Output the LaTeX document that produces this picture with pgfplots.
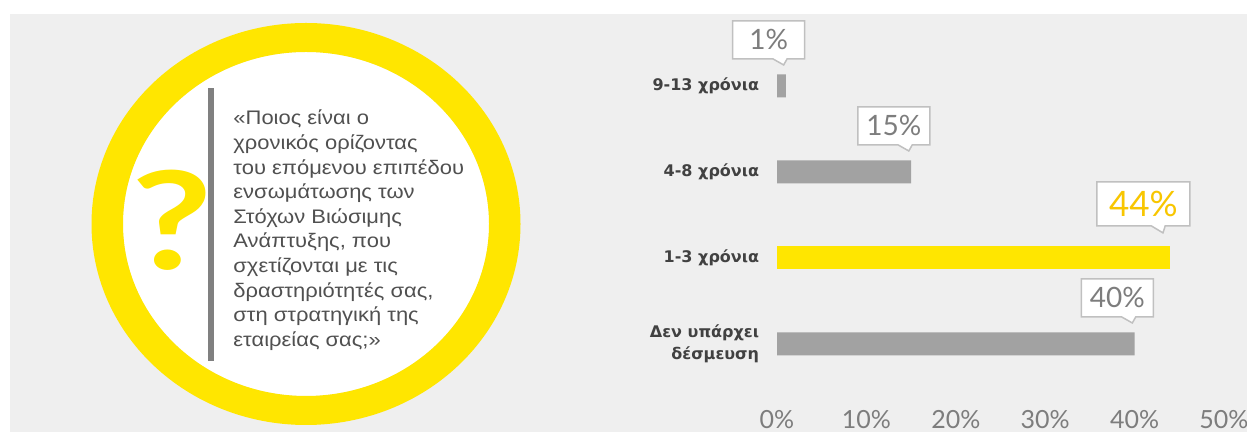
\documentclass[border=0pt]{standalone}
\usepackage{fontspec}
\setmainfont{Liberation Sans}
\newfontfamily\numfont{Lato}
\newfontfamily\catfont{DejaVu Sans}
\usepackage{pgfplots}
\pgfplotsset{compat=1.18}
\usetikzlibrary{shapes.callouts}

\definecolor{eyyellow}{RGB}{255,230,0}
\definecolor{bggray}{RGB}{239,239,239}
\definecolor{bargray}{RGB}{162,162,162}
\definecolor{qgray}{RGB}{80,80,80}
\definecolor{linegray}{RGB}{128,128,128}
\definecolor{numgray}{RGB}{125,125,125}
\definecolor{boxgray}{RGB}{192,192,192}
\definecolor{numyellow}{RGB}{248,198,0}
\definecolor{catgray}{RGB}{65,65,65}

% pointer vector is measured from the border, not from the centre
\tikzset{
  callout gray/.style={shape=rectangle callout, draw=boxgray, line width=0.75pt,
    fill=white, text=numgray, font=\numfont\fontsize{14}{14}\selectfont,
    minimum width=36pt, minimum height=19pt, inner sep=0pt,
    callout relative pointer={(1.8pt,-3pt)}, callout pointer width=7pt,
    anchor=pointer, yshift=10pt, xshift=-1pt},
  callout yellow/.style={shape=rectangle callout, draw=boxgray, line width=0.75pt,
    fill=white, text=numyellow, font=\numfont\fontsize{17.5}{17.5}\selectfont,
    minimum width=46.5pt, minimum height=22pt, inner sep=0pt,
    callout relative pointer={(2.35pt,-3.5pt)}, callout pointer width=7pt,
    anchor=pointer, yshift=12pt, xshift=-3.5pt},
}

\begin{document}
\begin{tikzpicture}
\begin{scope}[x=0.5pt,y=0.5pt]
  \clip (0,0) rectangle (1247,432);
  \fill[white] (0,0) rectangle (1247,432);
  \fill[bggray] (10,0) rectangle (1247,418);
  % question circle
  \fill[white] (306,208) ellipse (183 and 172);
  \fill[eyyellow, even odd rule] (306,208) ellipse (214.5 and 201) (306,208) ellipse (183 and 172);
  \fill[linegray] (208,71) rectangle (214,344);
  \node[anchor=base, text=eyyellow, font=\numfont\bfseries\fontsize{68}{68}\selectfont,
    xscale=1.3, inner sep=0pt] at (172,162) {?};
  \foreach \t [count=\i] in {«Ποιος είναι ο, χρονικός ορίζοντας, του επόμενου επιπέδου,
      ενσωμάτωσης των, Στόχων Βιώσιμης, {Ανάπτυξης, που}, σχετίζονται με τις,
      {δραστηριότητές σας,}, στη στρατηγική της, εταιρείας σας;»}
    \node[anchor=base west, inner sep=0pt, text=qgray, xscale=1.12,
      font=\fontsize{9.8}{12}\selectfont] at (233,{307-24.6*(\i-1)}) {\t};
\end{scope}

\begin{axis}[
  at={(388.5pt,16.05pt)}, anchor=south west,
  scale only axis, width=223.5pt, height=191.35pt,
  xmin=0, xmax=50, ymin=-0.65, ymax=3.8,
  xbar, bar width=11.5pt, bar shift=0pt,
  axis line style={draw=none}, major tick style={draw=none},
  xtick={0,10,...,50},
  xticklabel={\pgfmathprintnumber{\tick}\%},
  xticklabel style={font=\numfont\fontsize{12.5}{13}\selectfont, text=numgray,
    anchor=base, yshift=-14.5pt},
  ytick={0,1,2,3},
  yticklabels={{Δεν υπάρχει\\δέσμευση}, 1-3 χρόνια, 4-8 χρόνια, 9-13 χρόνια},
  yticklabel style={font=\catfont\bfseries\fontsize{8}{11}\selectfont, text=catgray,
    align=right, anchor=east, inner sep=0pt, xshift=-4.5pt},
  /pgf/number format/assume math mode=true,
  point meta=x,
  clip=false,
]
\addplot[fill=bargray, draw=none, bar shift=0pt,
  nodes near coords={\pgfmathprintnumber{\pgfplotspointmeta}\%},
  nodes near coords style={callout gray}]
  coordinates {(1,3) (15,2) (40,0)};
\addplot[fill=eyyellow, draw=none, bar shift=0pt,
  nodes near coords={\pgfmathprintnumber{\pgfplotspointmeta}\%},
  nodes near coords style={callout yellow}]
  coordinates {(44,1)};
\end{axis}
\pgfresetboundingbox
\useasboundingbox (0,0) rectangle (623.5pt,216pt);
\end{tikzpicture}
\end{document}
